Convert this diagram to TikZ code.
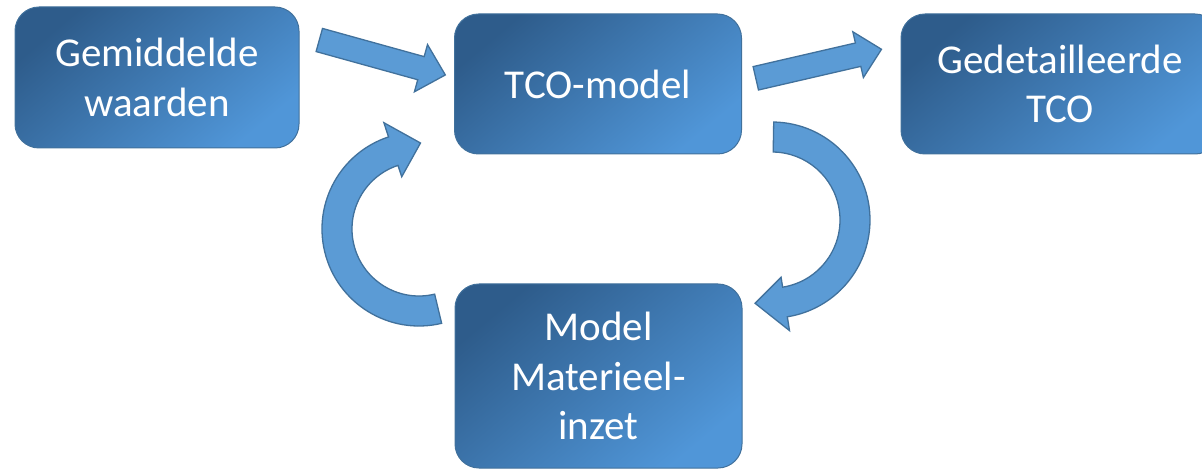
\documentclass[tikz,border=0pt]{standalone}
\usepackage{fontspec}
\newfontfamily\boxfont{Carlito}
\definecolor{boxdark}{RGB}{46,92,139}
\definecolor{boxlight}{RGB}{80,150,216}
\definecolor{edgeblue}{RGB}{65,113,156}
\definecolor{arrowfill}{RGB}{91,155,213}
\tikzset{
  box/.style={draw=edgeblue, line width=1pt, rounded corners=24pt,
    top color=boxdark, bottom color=boxlight, shading angle=40,
    text=white, font=\boxfont\fontsize{41}{49.5}\selectfont, align=center,
    inner sep=0pt},
  blockarrow/.style={draw=edgeblue, line width=1.3pt, fill=arrowfill, line join=miter}
}
\begin{document}
\begin{tikzpicture}[x=1pt,y=1pt]
\useasboundingbox (0,0) rectangle (1202,469);
\clip (0,0) rectangle (1202,469);

% boxes
\node[box, minimum width=284pt, minimum height=141pt] (gem) at (157,391.5) {Gemiddelde\\waarden};
\node[box, minimum width=287pt, minimum height=140pt] (tco) at (598,385) {TCO-model};
\node[box, minimum width=318pt, minimum height=140pt] (det) at (1060,385) {Gedetailleerde\\TCO};
\node[box, minimum width=287pt, minimum height=184pt] (mat) at (598.5,93) {Model\\Materieel-\\inzet};

% straight block arrows
\begin{scope}[shift={(319.3,429)},rotate=-15.5]
  \draw[blockarrow] (0,12) -- (105.5,12) -- (105.5,24.5) -- (130.8,0)
     -- (105.5,-24.5) -- (105.5,-12) -- (0,-12) -- cycle;
\end{scope}
\begin{scope}[shift={(755.8,390.7)},rotate=13]
  \draw[blockarrow] (0,12) -- (105,12) -- (105,23.5) -- (129,0)
     -- (105,-23.5) -- (105,-12) -- (0,-12) -- cycle;
\end{scope}

% curved block arrows
\coordinate (cl) at (419,240);
\begin{scope}[shift={(cl)}]
  \draw[blockarrow] (283.5:97pt) arc[start angle=283.5, end angle=108.3, radius=97pt]
     -- (108.3:112pt) -- (89:86pt) -- (108.3:55pt) -- (108.3:67pt)
     arc[start angle=108.3, end angle=283.5, radius=67pt] -- cycle;
\end{scope}
\coordinate (cr) at (772,249);
\begin{scope}[shift={(cr)}]
  \draw[blockarrow] (89:98pt) arc[start angle=89, end angle=-81, radius=98pt]
     -- (-81:112pt) -- (-101.5:85pt) -- (-81:58pt) -- (-81:68pt)
     arc[start angle=-81, end angle=89, radius=68pt] -- cycle;
\end{scope}
\end{tikzpicture}
\end{document}
